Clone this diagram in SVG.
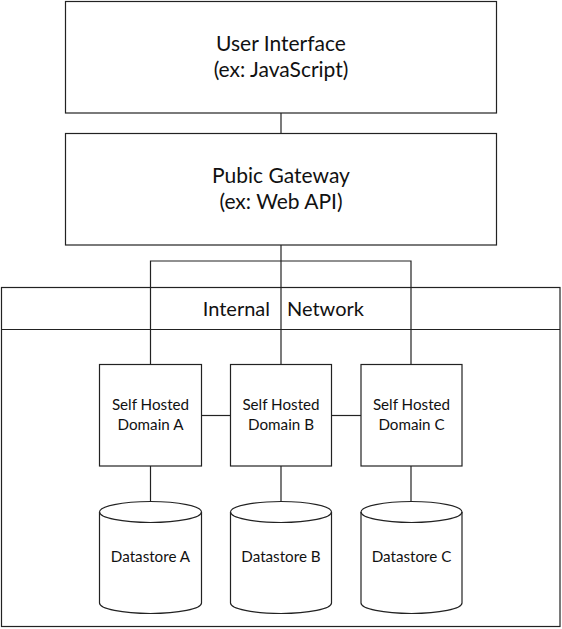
<svg xmlns="http://www.w3.org/2000/svg" width="562" height="629" viewBox="0 0 562 629">
<style>
.box{fill:#fff;stroke:#222;stroke-width:1.2}
.ln{fill:none;stroke:#222;stroke-width:1.2}
text{font-family:Lato,"Open Sans","Liberation Sans",sans-serif;fill:#111;text-anchor:middle}
.big{font-size:21px}
.mid{font-size:20px}
.sm{font-size:15.2px}
</style>
<rect width="562" height="629" fill="#fff"/>
<g id="internal-network">
<rect class="box" x="1.5" y="287.5" width="558.5" height="339"/>
<line class="ln" x1="1.5" y1="329.5" x2="560" y2="329.5"/>
<text class="mid" x="270" y="316" style="text-anchor:end">Internal</text>
<text class="mid" x="287" y="316" style="text-anchor:start">Network</text>
</g>
<g id="connectors">
<line class="ln" x1="281" y1="113" x2="281" y2="133"/>
<line class="ln" x1="281" y1="245" x2="281" y2="365"/>
<polyline class="ln" points="150.5,365 150.5,261 411,261 411,365"/>
<line class="ln" x1="201" y1="415.5" x2="230" y2="415.5"/>
<line class="ln" x1="331" y1="415.5" x2="361" y2="415.5"/>
<line class="ln" x1="150.5" y1="466" x2="150.5" y2="502"/>
<line class="ln" x1="281" y1="466" x2="281" y2="502"/>
<line class="ln" x1="411" y1="466" x2="411" y2="502"/>
</g>
<g id="user-interface">
<rect class="box" x="65.5" y="1.5" width="431" height="111.5"/>
<text class="big" x="281" y="51">User Interface</text>
<text class="big" x="281" y="77">(ex: JavaScript)</text>
</g>
<g id="public-gateway">
<rect class="box" x="65.5" y="133.5" width="431" height="111.5"/>
<text class="big" x="281" y="183">Pubic Gateway</text>
<text class="big" x="281" y="209">(ex: Web API)</text>
</g>
<g id="domain-a">
<rect class="box" x="99.5" y="364.5" width="102" height="101.5"/>
<text class="sm" x="150.5" y="410">Self Hosted</text>
<text class="sm" x="150.5" y="430">Domain A</text>
</g>
<g id="domain-b">
<rect class="box" x="230.5" y="364.5" width="101" height="101.5"/>
<text class="sm" x="281" y="410">Self Hosted</text>
<text class="sm" x="281" y="430">Domain B</text>
</g>
<g id="domain-c">
<rect class="box" x="361" y="364.5" width="101" height="101.5"/>
<text class="sm" x="411.5" y="410">Self Hosted</text>
<text class="sm" x="411.5" y="430">Domain C</text>
</g>
<g id="datastore-a">
<path class="box" d="M99.5,512 A51,10.5 0 0 1 201.5,512 V603 A51,10.5 0 0 1 99.5,603 Z"/>
<path class="ln" d="M99.5,512 A51,10.5 0 0 0 201.5,512"/>
<text class="sm" x="150.5" y="562">Datastore A</text>
</g>
<g id="datastore-b">
<path class="box" d="M230.5,512 A50.5,10.5 0 0 1 331.5,512 V603 A50.5,10.5 0 0 1 230.5,603 Z"/>
<path class="ln" d="M230.5,512 A50.5,10.5 0 0 0 331.5,512"/>
<text class="sm" x="281" y="562">Datastore B</text>
</g>
<g id="datastore-c">
<path class="box" d="M361,512 A50.5,10.5 0 0 1 462,512 V603 A50.5,10.5 0 0 1 361,603 Z"/>
<path class="ln" d="M361,512 A50.5,10.5 0 0 0 462,512"/>
<text class="sm" x="411.5" y="562">Datastore C</text>
</g>
</svg>
